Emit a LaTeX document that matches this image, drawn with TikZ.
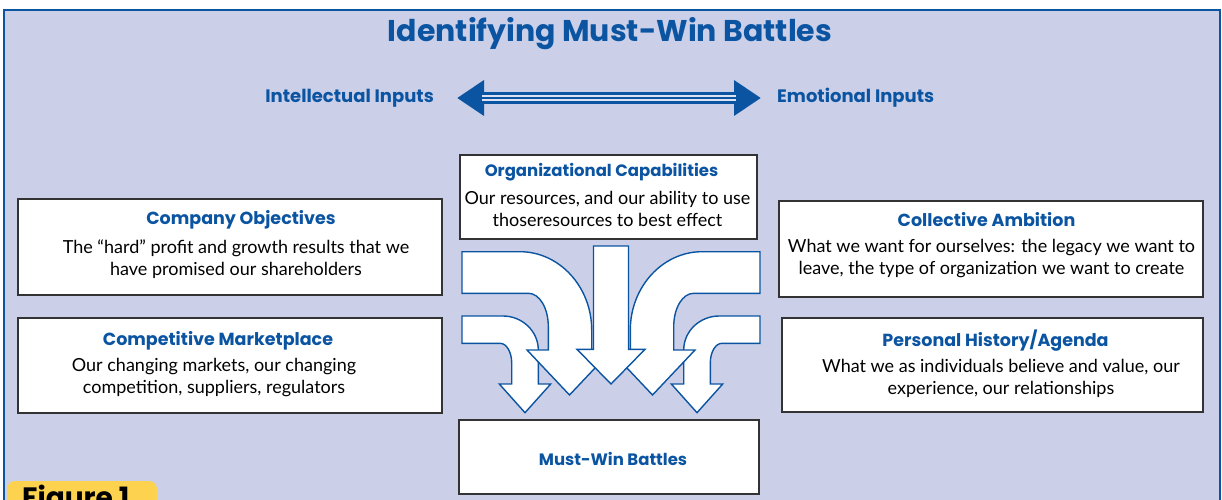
\documentclass[tikz,border=0pt]{standalone}
\usepackage{fontspec}
\setmainfont{Lato}
\newfontfamily\headfont{Poppins}
\usetikzlibrary{arrows.meta}

\definecolor{mwbblue}{HTML}{0B54A2}
\definecolor{panel}{HTML}{CBD0E8}
\definecolor{stripe}{HTML}{DDE1F1}
\definecolor{boxgray}{HTML}{333333}
\definecolor{tabyellow}{HTML}{FDD24E}

\tikzset{
  infobox/.style={draw=boxgray, fill=white, line width=1.3pt, inner sep=0pt},
  boxtitle/.style={text=mwbblue, font=\headfont\bfseries\fontsize{17.5}{20}\selectfont},
  boxtext/.style={align=center, font=\fontsize{18}{22}\selectfont},
  inputlabel/.style={text=mwbblue, inner sep=0pt, font=\headfont\bfseries\fontsize{18}{20}\selectfont},
  blockarrow/.style={draw=mwbblue, fill=white, line width=1.4pt, line join=miter},
}

% the two arrows coming in from the left (mirrored for the right side)
\newcommand{\sidearrows}{%
  % lower, small arrow
  \draw[blockarrow] (462,316) -- (503,316)
    .. controls (522,316) and (538.3,331) .. (538.3,350) -- (538.3,384)
    -- (550.7,384) -- (525,412.7) -- (499.3,384) -- (511.7,384) -- (511.7,363)
    .. controls (511.7,352) and (506.5,343.3) .. (500,343.3) -- (462,343.3) -- cycle;
  % upper, big arrow
  \draw[blockarrow] (462,251.7) -- (520,251.7)
    .. controls (559.5,251.7) and (591.7,287) .. (591.7,330) -- (591.7,350)
    -- (612,350) -- (569.5,395) -- (527,350) -- (548.3,350) -- (548.3,326.7)
    .. controls (548.3,308) and (539.5,293.3) .. (528.3,293.3) -- (462,293.3) -- cycle;
}

\begin{document}
\begin{tikzpicture}[x=1pt, y=-1pt]
    \useasboundingbox (0,0) rectangle (1222,500);
    \clip (0,0) rectangle (1222,500);

    % Panel
    \draw[fill=panel, draw=mwbblue, line width=2pt] (3.5,10) rectangle (1219.5,520);
    \node[text=mwbblue, font=\headfont\bfseries\fontsize{30}{34}\selectfont] (title) at (610,34) {Identifying Must-Win Battles};

    % Inputs
    \node[inputlabel, anchor=east] (intellect) at (434,98) {Intellectual Inputs};
    \node[inputlabel, anchor=west] (emotion) at (777,98) {Emotional Inputs};
    \draw[mwbblue, line width=11.6pt,
          {Triangle[width=34pt, length=27pt]}-{Triangle[width=34pt, length=27pt]}]
        ([xshift=23pt]intellect.east) -- ([xshift=-16pt]emotion.west);
    \draw[stripe, line width=1.3pt, double=mwbblue, double distance=2.6pt]
        ([xshift=48pt]intellect.east) -- ([xshift=-41pt]emotion.west);

    % Boxes
    \node[infobox, minimum width=297pt, minimum height=84pt] (capab) at (608.5,197) {};
    \node[boxtitle, font=\headfont\bfseries\fontsize{16.5}{20}\selectfont] (capabT) at (601.5,172) {Organizational Capabilities};
    \node[boxtext] (capabX) at (607.5,209) {Our resources, and our ability to use\\thoseresources to best effect};

    \node[infobox, minimum width=424pt, minimum height=96pt] (objectives) at (230,247) {};
    \node[boxtitle] (objectivesT) at (241,220) {Company Objectives};
    \node[boxtext] (objectivesX) at (236,259) {The ``hard'' profit and growth results that we\\have promised our shareholders};

    \node[infobox, minimum width=424pt, minimum height=96pt] (ambition) at (991,249) {};
    \node[boxtitle] (ambitionT) at (986.5,220) {Collective Ambition};
    \node[boxtext] (ambitionX) at (991.5,259) {What we want for ourselves: the legacy we want to\\leave, the type of organization we want to create};

    \node[infobox, minimum width=424pt, minimum height=95pt] (market) at (230,365.5) {};
    \node[boxtitle] (marketT) at (218,341) {Competitive Marketplace};
    \node[boxtext] (marketX) at (214,378) {Our changing markets, our changing\\competition, suppliers, regulators};

    \node[infobox, minimum width=421pt, minimum height=94pt] (history) at (992.5,365) {};
    \node[boxtitle] (historyT) at (995.5,341) {Personal History/Agenda};
    \node[boxtext] (historyX) at (1001,378) {What we as individuals believe and value, our\\experience, our relationships};

    \node[infobox, minimum width=300pt, minimum height=74pt] (battles) at (609,457) {};
    \node[boxtitle, font=\headfont\bfseries\fontsize{16.5}{18}\selectfont] (battlesT) at (613,459) {Must-Win Battles};

    % Arrows
    \sidearrows
    \begin{scope}[shift={(1222,0)}, xscale=-1]
        \sidearrows
    \end{scope}
    \draw[blockarrow] (593.5,246) -- (628.5,246) -- (628.5,349.3) -- (645,349.3)
        -- (611,384) -- (577,349.3) -- (593.5,349.3) -- cycle;

    % Figure tab
    \fill[tabyellow, rounded corners=8pt] (7,481) rectangle (157,520);
    \node[anchor=base west, inner sep=0pt, font=\headfont\bfseries\fontsize{28}{34}\selectfont] (figtab) at (22,507) {Figure 1};
\end{tikzpicture}
\end{document}
